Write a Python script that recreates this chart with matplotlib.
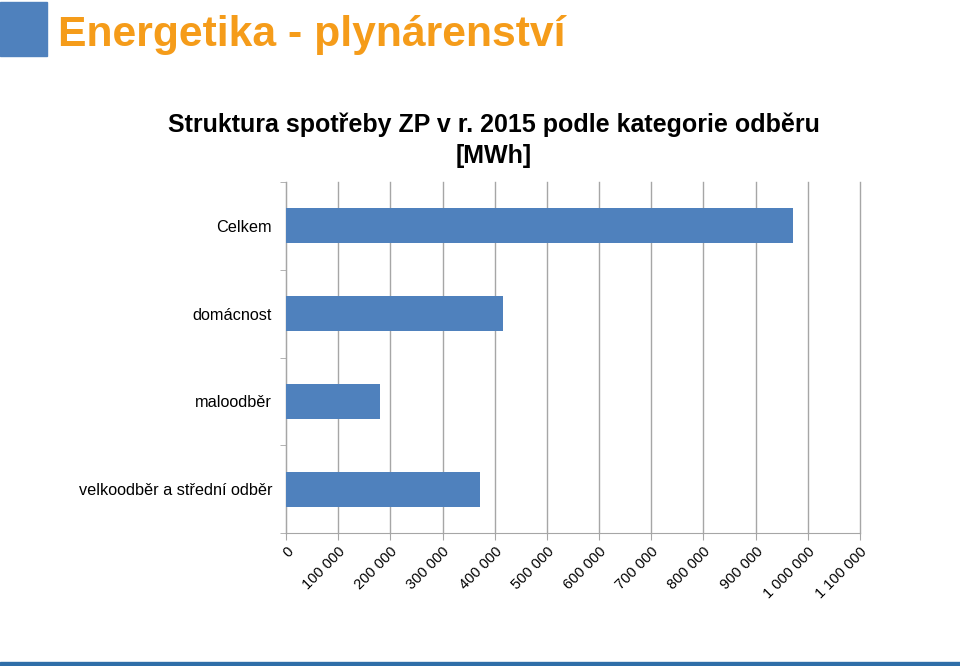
import matplotlib.pyplot as plt
import matplotlib.patches as patches
from matplotlib.ticker import FuncFormatter, MultipleLocator
import numpy as np

# data (MWh)
categories = ["Celkem", "domácnost", "maloodběr", "velkoodběr a střední odběr"]
consumption = [971000, 416000, 180000, 372000]

plt.rcParams["font.family"] = ["Liberation Sans", "DejaVu Sans"]

fig = plt.figure(figsize=(9.6, 6.66), dpi=100)

# slide header
fig.patches.append(patches.Rectangle((0, 1 - 56 / 666), 47 / 960, 54 / 666,
                                     transform=fig.transFigure, color="#4F81BD"))
fig.text(58 / 960, 1 - 35 / 666, "Energetika - plynárenství", fontsize=30.7,
         fontweight="bold", color="#F59C1A", va="center", ha="left")
fig.patches.append(patches.Rectangle((0, 0), 1, 4 / 666, transform=fig.transFigure,
                                     color="#2F6EA8"))

fig.text(494 / 960, 1 - 140 / 666, "Struktura spotřeby ZP v r. 2015 podle kategorie odběru\n[MWh]",
         fontsize=18, fontweight="bold", ha="center", va="center", linespacing=1.38)

ax = fig.add_axes([286 / 960, 1 - 533 / 666, 574 / 960, 351 / 666])
y = np.arange(len(categories))
ax.barh(y, consumption, height=0.4, color="#4F81BD", zorder=3)
ax.set_ylim(len(categories) - 0.5, -0.5)
ax.set_xlim(0, 1100000)

ax.xaxis.set_major_locator(MultipleLocator(100000))
ax.xaxis.set_major_formatter(FuncFormatter(lambda v, p: f"{int(v):,}".replace(",", " ")))
ax.grid(axis="x", color="#A6A6A6", linewidth=1, zorder=0)
for gl in ax.get_xgridlines():
    gl.set_clip_on(False)

ax.set_yticks(y)
ax.set_yticklabels(categories, fontsize=11.7)
ax.set_yticks(np.arange(len(categories) + 1) - 0.5, minor=True)
ax.tick_params(axis="y", which="major", length=0, pad=10)
ax.tick_params(axis="y", which="minor", length=4, color="#A6A6A6")
ax.tick_params(axis="x", length=5, color="#A6A6A6", labelsize=10.5)
for lbl in ax.get_xticklabels():
    lbl.set_rotation(45)
    lbl.set_ha("right")
    lbl.set_va("top")
    lbl.set_rotation_mode("anchor")

for s in ["top", "right"]:
    ax.spines[s].set_visible(False)
for s in ["left", "bottom"]:
    ax.spines[s].set_color("#A6A6A6")

fig.savefig("out.png", dpi=100)
